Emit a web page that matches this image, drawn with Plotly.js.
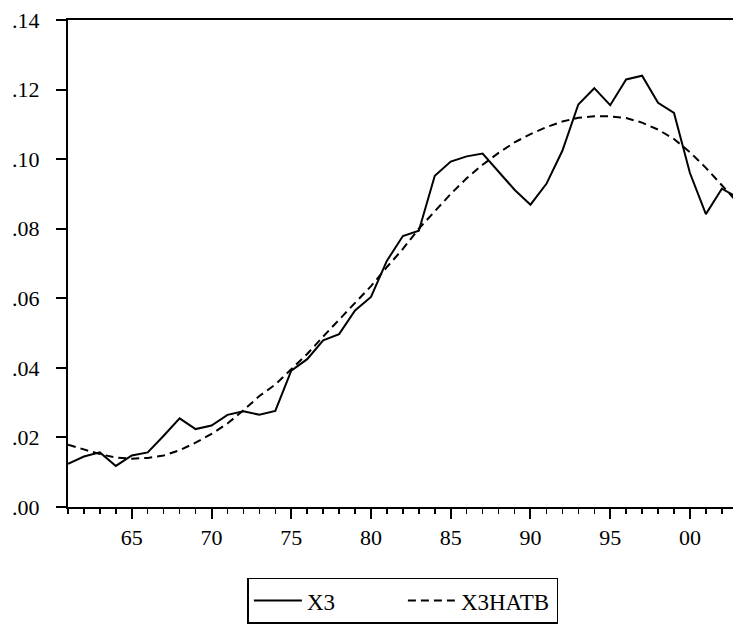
<!DOCTYPE html>
<html>
<head>
<meta charset="utf-8">
<script src="https://cdn.plot.ly/plotly-3.0.1.min.js"></script>
<style>
html,body{margin:0;padding:0;background:#fff;}
#chart{width:733px;height:624px;}
</style>
</head>
<body>
<div id="chart"></div>
<script>
var years = [1961,1962,1963,1964,1965,1966,1967,1968,1969,1970,
             1971,1972,1973,1974,1975,1976,1977,1978,1979,1980,
             1981,1982,1983,1984,1985,1986,1987,1988,1989,1990,
             1991,1992,1993,1994,1995,1996,1997,1998,1999,2000,
             2001,2002,2003];
var x3 = [0.0124,0.0145,0.0157,0.0118,0.0148,0.0157,0.0205,0.0255,0.0224,0.0234,
          0.0265,0.0275,0.0265,0.0276,0.0392,0.0425,0.0479,0.0497,0.0565,0.0604,
          0.0708,0.0779,0.0794,0.0952,0.0993,0.1008,0.1016,0.0964,0.0912,0.0869,
          0.0929,0.1024,0.1157,0.1204,0.1155,0.1229,0.1240,0.1162,0.1133,0.0960,
          0.0842,0.0915,0.0890];
var x3hatb = [0.0179,0.0165,0.0152,0.0142,0.0139,0.0141,0.0148,0.0163,0.0185,0.0210,
              0.0240,0.0278,0.0319,0.0352,0.0396,0.0440,0.0490,0.0538,0.0588,0.0635,
              0.0690,0.0742,0.0800,0.0850,0.0900,0.0945,0.0984,0.1018,0.1048,0.1072,
              0.1092,0.1108,0.1119,0.1123,0.1123,0.1118,0.1105,0.1085,0.1058,0.1020,
              0.0975,0.0925,0.0875];
var seriesNames = ["X3","X3HATB"];
var xTickVals = [1965,1970,1975,1980,1985,1990,1995,2000];
var xTickText = ["65","70","75","80","85","90","95","00"];
var yTickVals = [0,0.02,0.04,0.06,0.08,0.10,0.12,0.14];
var yTickText = [".00",".02",".04",".06",".08",".10",".12",".14"];

var FONT = "'Liberation Serif', 'Times New Roman', Times, serif";

var traces = [
  {x: years, y: x3, name: seriesNames[0], type: "scatter", mode: "lines",
   line: {color: "#000", width: 2}},
  {x: years, y: x3hatb, name: seriesNames[1], type: "scatter", mode: "lines",
   line: {color: "#000", width: 2, dash: "8px,5px"}}
];

var layout = {
  width: 733, height: 624,
  margin: {l: 68, r: 0, t: 20, b: 114, pad: 0},
  paper_bgcolor: "#fff", plot_bgcolor: "#fff",
  font: {family: FONT, size: 22, color: "#000"},
  showlegend: true,
  legend: {
    orientation: "h", x: 0.5036, xanchor: "center", y: -0.145, yanchor: "top",
    bordercolor: "#000", borderwidth: 1.5, bgcolor: "#fff",
    font: {family: FONT, size: 23, color: "#000"},
    itemwidth: 48, itemclick: false, tracegroupgap: 0,
    entrywidth: 91, entrywidthmode: "pixels"
  },
  xaxis: {
    range: [1961, 2002.7], showgrid: false, zeroline: false,
    showline: true, linecolor: "#000", linewidth: 2, mirror: true,
    tickmode: "array", tickvals: xTickVals, ticktext: xTickText,
    ticks: "outside", ticklen: 10, tickwidth: 2, tickcolor: "#000",
    minor: {tick0: 1961, dtick: 1, ticks: "outside", ticklen: 5, tickwidth: 1.5, tickcolor: "#000", showgrid: false},
    tickfont: {family: FONT, size: 22, color: "#000"},
    fixedrange: true
  },
  yaxis: {
    range: [0, 0.14], showgrid: false, zeroline: false,
    showline: true, linecolor: "#000", linewidth: 2, mirror: false,
    tickmode: "array", tickvals: yTickVals, ticktext: yTickText,
    ticks: "outside", ticklen: 10, tickwidth: 2, tickcolor: "#000",
    ticklabelstandoff: 12,
    tickfont: {family: FONT, size: 22, color: "#000"},
    fixedrange: true
  }
};

Plotly.newPlot("chart", traces, layout, {displayModeBar: false, staticPlot: true});
</script>
</body>
</html>
